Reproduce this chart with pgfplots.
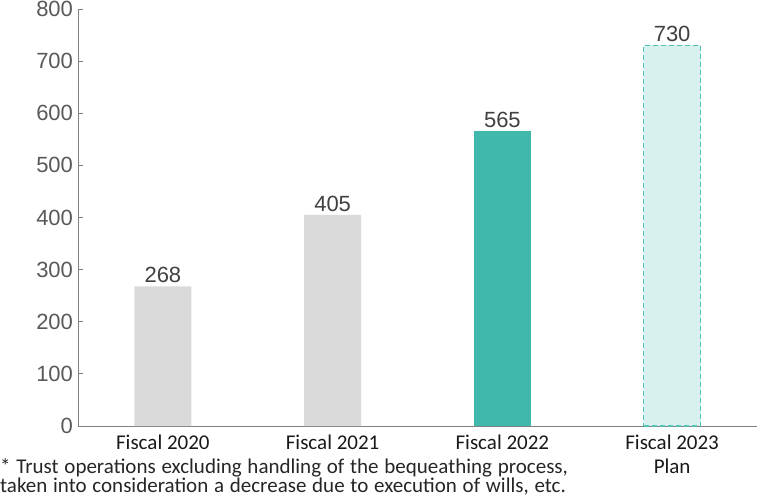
\documentclass[border=0pt]{standalone}
\usepackage{fontspec}
\setmainfont{Carlito}
\newfontfamily\arial{Liberation Sans}
\usepackage{pgfplots}
\pgfplotsset{compat=1.18}
\definecolor{gbar}{HTML}{DADADA}
\definecolor{teal1}{HTML}{40B9AC}
\definecolor{tealL}{HTML}{D8F1EE}
\definecolor{tealD}{HTML}{52C2B5}
\definecolor{axgray}{HTML}{808080}
\definecolor{tkgray}{HTML}{595959}
\definecolor{lblgray}{HTML}{404040}
\newcommand\wide{\spaceskip=0.274em\relax}
\begin{document}
\begin{tikzpicture}[x=1pt,y=1pt]
\path[use as bounding box] (0,0) rectangle (771,-502);
\begin{axis}[at={(78pt,-426pt)}, anchor=south west, scale only axis,
  width=679pt, height=417pt,
  xmin=-0.5, xmax=3.5, ymin=0, ymax=800,
  axis x line*=bottom, axis y line*=left,
  axis line style={axgray, line width=1pt},
  ytick={0,100,...,800},
  ytick style={axgray, line width=1pt},
  major tick length=5pt, tick align=inside,
  xtick={0,1,2,3}, xtick style={draw=none},
  xticklabels={Fiscal 2020, Fiscal 2021, Fiscal 2022, {Fiscal 2023\\Plan}},
  x tick label style={font=\fontsize{21}{24}\selectfont, text=black!90, align=center, anchor=north, yshift=0pt},
  y tick label style={font=\arial\fontsize{22}{24}\selectfont, text=tkgray, xshift=-1.5pt},
  /pgf/number format/assume math mode=true,
  ybar, bar width=57pt,
  nodes near coords,
  every node near coord/.append style={font=\arial\fontsize{22}{24}\selectfont, text=lblgray, anchor=south, yshift=0pt},
  clip=false,
]
\addplot[fill=gbar, draw=none, bar shift=0pt] coordinates {(0,268) (1,405)};
\addplot[fill=teal1, draw=none, bar shift=0pt] coordinates {(2,565)};
\addplot[fill=tealL, draw=tealD, line width=1.2pt, dash pattern=on 5pt off 3pt, bar shift=0pt] coordinates {(3,730)};
\end{axis}
\node[anchor=base west, inner sep=0, font=\fontsize{21}{20}\selectfont, text=black!85] at (0,-473) {\wide * Trust operations excluding handling of the bequeathing process,};
\node[anchor=base west, inner sep=0, font=\fontsize{21}{20}\selectfont, text=black!85] at (0,-492) {\wide taken into consideration a decrease due to execution of wills, etc.};
\end{tikzpicture}
\end{document}
